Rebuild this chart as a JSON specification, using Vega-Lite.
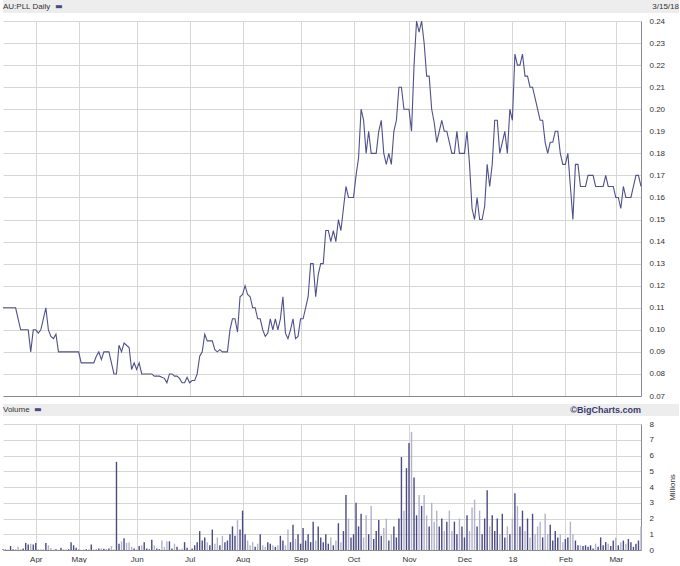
{
"$schema": "https://vega.github.io/schema/vega-lite/v6.json",
"background": "white",
"padding": {"left": 0, "top": 0, "right": 0, "bottom": 0},
"spacing": 8,
"bounds": "flush",
"config": {"view": {"stroke": null}, "font": "Liberation Sans",
  "axis": {"labelFont": "Liberation Sans", "labelFontSize": 8, "labelColor": "#333333", "gridColor": "#d6d6d6", "gridWidth": 1, "domainColor": "#9a9a9a", "ticks": false}},
"datasets": {"s": [
{"d":"2017-03-15","p":0.11,"v":0.05,"c":"u"},{"d":"2017-03-16","p":0.11,"v":0.03,"c":"u"},{"d":"2017-03-17","p":0.11,"v":0.02,"c":"u"},{"d":"2017-03-20","p":0.11,"v":0.25,"c":"u"},{"d":"2017-03-21","p":0.11,"v":0.05,"c":"u"},{"d":"2017-03-22","p":0.11,"v":0.02,"c":"u"},{"d":"2017-03-23","p":0.105,"v":0.2,"c":"d"},{"d":"2017-03-24","p":0.10,"v":0.05,"c":"d"},{"d":"2017-03-27","p":0.10,"v":0.1,"c":"u"},{"d":"2017-03-28","p":0.10,"v":0.45,"c":"u"},{"d":"2017-03-29","p":0.10,"v":0.35,"c":"u"},{"d":"2017-03-30","p":0.09,"v":0.4,"c":"d"},{"d":"2017-03-31","p":0.10,"v":0.35,"c":"u"},
{"d":"2017-04-03","p":0.10,"v":0.45,"c":"u"},{"d":"2017-04-04","p":0.0985,"v":0.05,"c":"d"},{"d":"2017-04-05","p":0.10,"v":0.02,"c":"u"},{"d":"2017-04-06","p":0.105,"v":0.02,"c":"u"},{"d":"2017-04-07","p":0.11,"v":0.45,"c":"u"},{"d":"2017-04-10","p":0.10,"v":0.3,"c":"d"},{"d":"2017-04-11","p":0.097,"v":0.12,"c":"d"},{"d":"2017-04-12","p":0.096,"v":0.02,"c":"d"},{"d":"2017-04-13","p":0.098,"v":0.05,"c":"u"},{"d":"2017-04-18","p":0.09,"v":0.02,"c":"d"},{"d":"2017-04-19","p":0.09,"v":0.15,"c":"u"},{"d":"2017-04-20","p":0.09,"v":0.02,"c":"u"},{"d":"2017-04-21","p":0.09,"v":0.02,"c":"u"},{"d":"2017-04-24","p":0.09,"v":0.05,"c":"u"},{"d":"2017-04-26","p":0.09,"v":0.5,"c":"u"},{"d":"2017-04-27","p":0.09,"v":0.3,"c":"u"},{"d":"2017-04-28","p":0.09,"v":0.15,"c":"u"},
{"d":"2017-05-01","p":0.09,"v":0.03,"c":"u"},{"d":"2017-05-02","p":0.085,"v":0.02,"c":"d"},{"d":"2017-05-03","p":0.085,"v":0.02,"c":"u"},{"d":"2017-05-04","p":0.085,"v":0.05,"c":"u"},{"d":"2017-05-05","p":0.085,"v":0.02,"c":"u"},{"d":"2017-05-08","p":0.085,"v":0.35,"c":"u"},{"d":"2017-05-09","p":0.085,"v":0.02,"c":"u"},{"d":"2017-05-10","p":0.088,"v":0.03,"c":"u"},{"d":"2017-05-11","p":0.09,"v":0.1,"c":"u"},{"d":"2017-05-12","p":0.0865,"v":0.1,"c":"d"},{"d":"2017-05-15","p":0.09,"v":0.08,"c":"u"},{"d":"2017-05-16","p":0.09,"v":0.03,"c":"u"},{"d":"2017-05-17","p":0.09,"v":0.1,"c":"u"},{"d":"2017-05-18","p":0.085,"v":0.25,"c":"d"},{"d":"2017-05-19","p":0.08,"v":0.05,"c":"d"},{"d":"2017-05-22","p":0.08,"v":5.6,"c":"u"},{"d":"2017-05-23","p":0.093,"v":0.4,"c":"u"},{"d":"2017-05-24","p":0.09,"v":0.55,"c":"d"},{"d":"2017-05-25","p":0.094,"v":0.75,"c":"u"},{"d":"2017-05-26","p":0.093,"v":0.45,"c":"d"},{"d":"2017-05-29","p":0.092,"v":0.5,"c":"d"},{"d":"2017-05-30","p":0.082,"v":0.2,"c":"d"},{"d":"2017-05-31","p":0.085,"v":0.1,"c":"u"},
{"d":"2017-06-01","p":0.082,"v":0.02,"c":"d"},{"d":"2017-06-02","p":0.085,"v":0.25,"c":"u"},{"d":"2017-06-05","p":0.08,"v":0.3,"c":"d"},{"d":"2017-06-06","p":0.08,"v":0.5,"c":"u"},{"d":"2017-06-07","p":0.08,"v":0.1,"c":"u"},{"d":"2017-06-08","p":0.08,"v":0.05,"c":"u"},{"d":"2017-06-09","p":0.08,"v":0.65,"c":"u"},{"d":"2017-06-13","p":0.079,"v":0.3,"c":"d"},{"d":"2017-06-14","p":0.079,"v":0.1,"c":"u"},{"d":"2017-06-15","p":0.079,"v":0.05,"c":"u"},{"d":"2017-06-16","p":0.0785,"v":0.6,"c":"d"},{"d":"2017-06-19","p":0.078,"v":0.2,"c":"d"},{"d":"2017-06-20","p":0.076,"v":0.55,"c":"d"},{"d":"2017-06-21","p":0.08,"v":0.55,"c":"u"},{"d":"2017-06-22","p":0.08,"v":0.1,"c":"u"},{"d":"2017-06-23","p":0.079,"v":0.4,"c":"d"},{"d":"2017-06-26","p":0.079,"v":0.2,"c":"u"},{"d":"2017-06-27","p":0.078,"v":0.05,"c":"d"},{"d":"2017-06-28","p":0.076,"v":0.1,"c":"d"},{"d":"2017-06-29","p":0.076,"v":0.5,"c":"u"},{"d":"2017-06-30","p":0.0785,"v":0.15,"c":"u"},
{"d":"2017-07-03","p":0.076,"v":0.02,"c":"d"},{"d":"2017-07-04","p":0.077,"v":0.1,"c":"u"},{"d":"2017-07-05","p":0.077,"v":0.3,"c":"u"},{"d":"2017-07-06","p":0.08,"v":0.5,"c":"u"},{"d":"2017-07-07","p":0.088,"v":1.2,"c":"u"},{"d":"2017-07-10","p":0.09,"v":0.6,"c":"u"},{"d":"2017-07-11","p":0.098,"v":0.8,"c":"u"},{"d":"2017-07-12","p":0.095,"v":0.5,"c":"d"},{"d":"2017-07-13","p":0.095,"v":0.3,"c":"u"},{"d":"2017-07-14","p":0.095,"v":1.3,"c":"u"},{"d":"2017-07-17","p":0.091,"v":0.4,"c":"d"},{"d":"2017-07-18","p":0.09,"v":0.8,"c":"d"},{"d":"2017-07-19","p":0.091,"v":0.3,"c":"u"},{"d":"2017-07-20","p":0.09,"v":0.9,"c":"d"},{"d":"2017-07-21","p":0.09,"v":0.5,"c":"u"},{"d":"2017-07-24","p":0.09,"v":0.6,"c":"u"},{"d":"2017-07-25","p":0.10,"v":1.0,"c":"u"},{"d":"2017-07-26","p":0.105,"v":1.5,"c":"u"},{"d":"2017-07-27","p":0.105,"v":0.9,"c":"u"},{"d":"2017-07-28","p":0.099,"v":1.9,"c":"d"},{"d":"2017-07-31","p":0.115,"v":1.3,"c":"u"},
{"d":"2017-08-01","p":0.116,"v":2.5,"c":"u"},{"d":"2017-08-02","p":0.12,"v":1.0,"c":"u"},{"d":"2017-08-03","p":0.116,"v":0.6,"c":"d"},{"d":"2017-08-04","p":0.115,"v":0.3,"c":"d"},{"d":"2017-08-07","p":0.11,"v":0.5,"c":"d"},{"d":"2017-08-08","p":0.11,"v":0.2,"c":"u"},{"d":"2017-08-09","p":0.105,"v":0.4,"c":"d"},{"d":"2017-08-10","p":0.105,"v":1.0,"c":"u"},{"d":"2017-08-11","p":0.10,"v":0.3,"c":"d"},{"d":"2017-08-14","p":0.097,"v":0.2,"c":"d"},{"d":"2017-08-15","p":0.0985,"v":0.5,"c":"u"},{"d":"2017-08-16","p":0.105,"v":0.4,"c":"u"},{"d":"2017-08-17","p":0.10,"v":0.3,"c":"d"},{"d":"2017-08-18","p":0.105,"v":0.2,"c":"u"},{"d":"2017-08-21","p":0.10,"v":0.3,"c":"d"},{"d":"2017-08-22","p":0.105,"v":0.9,"c":"u"},{"d":"2017-08-23","p":0.115,"v":0.6,"c":"u"},{"d":"2017-08-24","p":0.0985,"v":0.3,"c":"d"},{"d":"2017-08-25","p":0.096,"v":1.3,"c":"d"},{"d":"2017-08-28","p":0.10,"v":0.5,"c":"u"},{"d":"2017-08-29","p":0.105,"v":1.6,"c":"u"},{"d":"2017-08-30","p":0.096,"v":0.7,"c":"d"},{"d":"2017-08-31","p":0.097,"v":1.0,"c":"u"},
{"d":"2017-09-01","p":0.105,"v":0.4,"c":"u"},{"d":"2017-09-04","p":0.105,"v":1.4,"c":"u"},{"d":"2017-09-05","p":0.11,"v":0.6,"c":"u"},{"d":"2017-09-06","p":0.115,"v":1.0,"c":"u"},{"d":"2017-09-07","p":0.13,"v":0.5,"c":"u"},{"d":"2017-09-08","p":0.13,"v":1.8,"c":"u"},{"d":"2017-09-11","p":0.115,"v":0.6,"c":"d"},{"d":"2017-09-12","p":0.125,"v":1.5,"c":"u"},{"d":"2017-09-13","p":0.13,"v":0.8,"c":"u"},{"d":"2017-09-14","p":0.13,"v":0.5,"c":"u"},{"d":"2017-09-15","p":0.145,"v":1.0,"c":"u"},{"d":"2017-09-18","p":0.145,"v":0.4,"c":"u"},{"d":"2017-09-19","p":0.14,"v":0.8,"c":"d"},{"d":"2017-09-20","p":0.145,"v":0.3,"c":"u"},{"d":"2017-09-21","p":0.14,"v":0.6,"c":"d"},{"d":"2017-09-22","p":0.15,"v":1.7,"c":"u"},{"d":"2017-09-25","p":0.145,"v":0.5,"c":"d"},{"d":"2017-09-26","p":0.155,"v":1.2,"c":"u"},{"d":"2017-09-27","p":0.165,"v":3.5,"c":"u"},{"d":"2017-09-28","p":0.16,"v":2.0,"c":"d"},{"d":"2017-09-29","p":0.16,"v":0.8,"c":"u"},
{"d":"2017-10-02","p":0.16,"v":1.0,"c":"u"},{"d":"2017-10-03","p":0.17,"v":3.0,"c":"u"},{"d":"2017-10-04","p":0.178,"v":1.5,"c":"u"},{"d":"2017-10-05","p":0.20,"v":2.3,"c":"u"},{"d":"2017-10-06","p":0.195,"v":0.8,"c":"d"},{"d":"2017-10-09","p":0.18,"v":2.2,"c":"d"},{"d":"2017-10-10","p":0.19,"v":1.0,"c":"u"},{"d":"2017-10-11","p":0.18,"v":2.8,"c":"d"},{"d":"2017-10-12","p":0.18,"v":0.7,"c":"u"},{"d":"2017-10-13","p":0.18,"v":1.2,"c":"u"},{"d":"2017-10-16","p":0.19,"v":1.9,"c":"u"},{"d":"2017-10-17","p":0.195,"v":0.9,"c":"u"},{"d":"2017-10-18","p":0.18,"v":1.4,"c":"d"},{"d":"2017-10-19","p":0.175,"v":2.0,"c":"d"},{"d":"2017-10-20","p":0.18,"v":0.6,"c":"u"},{"d":"2017-10-23","p":0.175,"v":1.0,"c":"d"},{"d":"2017-10-24","p":0.19,"v":1.5,"c":"u"},{"d":"2017-10-25","p":0.195,"v":0.8,"c":"u"},{"d":"2017-10-26","p":0.21,"v":2.0,"c":"u"},{"d":"2017-10-27","p":0.21,"v":5.9,"c":"u"},{"d":"2017-10-30","p":0.20,"v":2.5,"c":"d"},{"d":"2017-10-31","p":0.20,"v":5.2,"c":"u"},
{"d":"2017-11-01","p":0.20,"v":6.8,"c":"u"},{"d":"2017-11-02","p":0.19,"v":7.5,"c":"d"},{"d":"2017-11-03","p":0.22,"v":4.6,"c":"u"},{"d":"2017-11-06","p":0.24,"v":2.2,"c":"u"},{"d":"2017-11-07","p":0.235,"v":3.5,"c":"d"},{"d":"2017-11-08","p":0.24,"v":2.8,"c":"u"},{"d":"2017-11-09","p":0.23,"v":3.5,"c":"d"},{"d":"2017-11-10","p":0.215,"v":2.2,"c":"d"},{"d":"2017-11-13","p":0.215,"v":1.5,"c":"u"},{"d":"2017-11-14","p":0.20,"v":3.0,"c":"d"},{"d":"2017-11-15","p":0.194,"v":1.8,"c":"d"},{"d":"2017-11-16","p":0.185,"v":2.5,"c":"d"},{"d":"2017-11-17","p":0.19,"v":1.5,"c":"u"},{"d":"2017-11-20","p":0.195,"v":2.0,"c":"u"},{"d":"2017-11-21","p":0.19,"v":1.2,"c":"d"},{"d":"2017-11-22","p":0.19,"v":1.8,"c":"u"},{"d":"2017-11-23","p":0.185,"v":2.5,"c":"d"},{"d":"2017-11-24","p":0.18,"v":1.2,"c":"d"},{"d":"2017-11-27","p":0.18,"v":1.8,"c":"u"},{"d":"2017-11-28","p":0.19,"v":1.0,"c":"u"},{"d":"2017-11-29","p":0.18,"v":2.0,"c":"d"},{"d":"2017-11-30","p":0.18,"v":1.5,"c":"u"},
{"d":"2017-12-01","p":0.18,"v":0.8,"c":"u"},{"d":"2017-12-04","p":0.19,"v":2.2,"c":"u"},{"d":"2017-12-05","p":0.175,"v":1.2,"c":"d"},{"d":"2017-12-06","p":0.155,"v":2.7,"c":"d"},{"d":"2017-12-07","p":0.15,"v":3.2,"c":"d"},{"d":"2017-12-08","p":0.16,"v":1.5,"c":"u"},{"d":"2017-12-11","p":0.15,"v":2.5,"c":"d"},{"d":"2017-12-12","p":0.15,"v":1.0,"c":"u"},{"d":"2017-12-13","p":0.156,"v":2.0,"c":"u"},{"d":"2017-12-14","p":0.175,"v":3.8,"c":"u"},{"d":"2017-12-15","p":0.165,"v":1.5,"c":"d"},{"d":"2017-12-18","p":0.175,"v":2.2,"c":"u"},{"d":"2017-12-19","p":0.195,"v":1.2,"c":"u"},{"d":"2017-12-20","p":0.195,"v":2.0,"c":"u"},{"d":"2017-12-21","p":0.18,"v":1.0,"c":"d"},{"d":"2017-12-22","p":0.185,"v":2.3,"c":"u"},{"d":"2017-12-27","p":0.19,"v":0.8,"c":"u"},{"d":"2017-12-28","p":0.18,"v":1.5,"c":"d"},{"d":"2017-12-29","p":0.20,"v":1.0,"c":"u"},
{"d":"2018-01-02","p":0.195,"v":2.0,"c":"d"},{"d":"2018-01-03","p":0.225,"v":3.6,"c":"u"},{"d":"2018-01-04","p":0.22,"v":2.8,"c":"d"},{"d":"2018-01-05","p":0.22,"v":1.5,"c":"u"},{"d":"2018-01-08","p":0.225,"v":2.5,"c":"u"},{"d":"2018-01-09","p":0.215,"v":1.2,"c":"d"},{"d":"2018-01-10","p":0.215,"v":2.0,"c":"u"},{"d":"2018-01-11","p":0.21,"v":0.8,"c":"d"},{"d":"2018-01-12","p":0.21,"v":2.3,"c":"u"},{"d":"2018-01-15","p":0.205,"v":1.0,"c":"d"},{"d":"2018-01-16","p":0.20,"v":1.5,"c":"d"},{"d":"2018-01-17","p":0.195,"v":1.8,"c":"d"},{"d":"2018-01-18","p":0.195,"v":0.8,"c":"u"},{"d":"2018-01-19","p":0.185,"v":2.3,"c":"d"},{"d":"2018-01-22","p":0.18,"v":1.0,"c":"d"},{"d":"2018-01-23","p":0.185,"v":1.6,"c":"u"},{"d":"2018-01-24","p":0.185,"v":0.6,"c":"u"},{"d":"2018-01-25","p":0.19,"v":1.2,"c":"u"},{"d":"2018-01-29","p":0.19,"v":0.8,"c":"u"},{"d":"2018-01-30","p":0.18,"v":1.0,"c":"d"},{"d":"2018-01-31","p":0.175,"v":0.5,"c":"d"},
{"d":"2018-02-01","p":0.175,"v":0.7,"c":"u"},{"d":"2018-02-02","p":0.18,"v":0.8,"c":"u"},{"d":"2018-02-05","p":0.165,"v":1.8,"c":"d"},{"d":"2018-02-06","p":0.15,"v":1.0,"c":"d"},{"d":"2018-02-07","p":0.175,"v":0.6,"c":"u"},{"d":"2018-02-08","p":0.175,"v":0.3,"c":"u"},{"d":"2018-02-09","p":0.165,"v":0.3,"c":"d"},{"d":"2018-02-12","p":0.165,"v":0.25,"c":"u"},{"d":"2018-02-13","p":0.165,"v":0.3,"c":"u"},{"d":"2018-02-14","p":0.17,"v":0.2,"c":"u"},{"d":"2018-02-15","p":0.17,"v":0.3,"c":"u"},{"d":"2018-02-16","p":0.17,"v":0.1,"c":"u"},{"d":"2018-02-19","p":0.165,"v":0.4,"c":"d"},{"d":"2018-02-20","p":0.165,"v":0.2,"c":"u"},{"d":"2018-02-21","p":0.165,"v":0.8,"c":"u"},{"d":"2018-02-22","p":0.165,"v":0.3,"c":"u"},{"d":"2018-02-23","p":0.17,"v":0.5,"c":"u"},{"d":"2018-02-26","p":0.165,"v":0.4,"c":"d"},{"d":"2018-02-27","p":0.165,"v":0.25,"c":"u"},{"d":"2018-02-28","p":0.165,"v":0.6,"c":"u"},
{"d":"2018-03-01","p":0.16,"v":0.8,"c":"d"},{"d":"2018-03-02","p":0.16,"v":0.3,"c":"u"},{"d":"2018-03-05","p":0.155,"v":0.5,"c":"d"},{"d":"2018-03-06","p":0.165,"v":0.6,"c":"u"},{"d":"2018-03-07","p":0.16,"v":0.4,"c":"d"},{"d":"2018-03-08","p":0.16,"v":0.7,"c":"u"},{"d":"2018-03-09","p":0.16,"v":0.5,"c":"u"},{"d":"2018-03-12","p":0.165,"v":0.2,"c":"u"},{"d":"2018-03-13","p":0.17,"v":0.4,"c":"u"},{"d":"2018-03-14","p":0.17,"v":0.6,"c":"u"},{"d":"2018-03-15","p":0.165,"v":1.5,"c":"d"}
]},
"vconcat": [
{
 "width": 676, "height": 13,
 "view": {"fill": "#ededed", "stroke": null},
 "data": {"values": [{"side": "L", "label": "AU:PLL Daily"}, {"side": "R", "label": "3/15/18"}, {"side": "L", "label": "\u25ac"}]},
 "layer": [
  {"transform": [{"filter": "datum.label == 'AU:PLL Daily'"}],
   "mark": {"type": "text", "align": "left", "baseline": "middle", "fontSize": 8, "color": "#333333", "font": "Liberation Sans"},
   "encoding": {"x": {"field": "side", "type": "nominal", "scale": {"type": "point", "domain": ["L", "R"], "padding": 0}, "axis": null}, "text": {"field": "label"}}},
  {"transform": [{"filter": "datum.label == '\u25ac'"}],
   "mark": {"type": "text", "align": "left", "baseline": "middle", "fontSize": 8, "color": "#4a4a84", "dx": 52, "font": "DejaVu Sans"},
   "encoding": {"x": {"field": "side", "type": "nominal", "scale": {"type": "point", "domain": ["L", "R"], "padding": 0}, "axis": null}, "text": {"field": "label"}}},
  {"transform": [{"filter": "datum.side == 'R' && datum.label != '\u25ac'"}],
   "mark": {"type": "text", "align": "right", "baseline": "middle", "fontSize": 8, "color": "#333333", "font": "Liberation Sans"},
   "encoding": {"x": {"field": "side", "type": "nominal", "scale": {"type": "point", "domain": ["L", "R"], "padding": 0}, "axis": null}, "text": {"field": "label"}}}
 ]
},
{
 "width": 638, "height": 375,
 "data": {"name": "s"},
 "mark": {"type": "line", "color": "#50508a", "strokeWidth": 1.1, "interpolate": "linear"},
 "encoding": {
  "x": {"field": "d", "type": "ordinal", "scale": {"type": "point", "padding": 0},
        "axis": {"orient": "bottom", "values": ["2017-04-03","2017-05-01","2017-06-01","2017-07-03","2017-08-01","2017-09-01","2017-10-02","2017-11-01","2017-12-01","2018-01-02","2018-02-01","2018-03-01"], "labels": false, "title": null, "grid": true, "domain": true, "domainColor": "#8a8a8a"}},
  "y": {"field": "p", "type": "quantitative", "scale": {"domain": [0.07, 0.24], "nice": false, "zero": false},
        "axis": {"orient": "right", "values": [0.07,0.08,0.09,0.10,0.11,0.12,0.13,0.14,0.15,0.16,0.17,0.18,0.19,0.20,0.21,0.22,0.23,0.24], "format": ".2f", "title": null, "grid": true, "domain": true, "domainColor": "#8a8a8a", "labelPadding": 8}}
 }
},
{
 "width": 676, "height": 12,
 "view": {"fill": "#ededed", "stroke": null},
 "data": {"values": [{"side": "L", "label": "Volume"}, {"side": "R", "label": "\u00a9BigCharts.com"}, {"side": "L", "label": "\u25ac"}]},
 "layer": [
  {"transform": [{"filter": "datum.label == 'Volume'"}],
   "mark": {"type": "text", "align": "left", "baseline": "middle", "fontSize": 8, "color": "#333333", "font": "Liberation Sans"},
   "encoding": {"x": {"field": "side", "type": "nominal", "scale": {"type": "point", "domain": ["L", "R"], "padding": 0.0298, "align": 0}, "axis": null}, "text": {"field": "label"}}},
  {"transform": [{"filter": "datum.label == '\u25ac'"}],
   "mark": {"type": "text", "align": "left", "baseline": "middle", "fontSize": 8, "color": "#4a4a84", "dx": 31, "font": "DejaVu Sans"},
   "encoding": {"x": {"field": "side", "type": "nominal", "scale": {"type": "point", "domain": ["L", "R"], "padding": 0.0298, "align": 0}, "axis": null}, "text": {"field": "label"}}},
  {"transform": [{"filter": "datum.side == 'R'"}],
   "mark": {"type": "text", "align": "right", "baseline": "middle", "fontSize": 9, "fontWeight": "bold", "color": "#3a3a6e", "font": "Liberation Sans"},
   "encoding": {"x": {"field": "side", "type": "nominal", "scale": {"type": "point", "domain": ["L", "R"], "padding": 0.0298, "align": 0}, "axis": null}, "text": {"field": "label"}}}
 ]
},
{
 "width": 638, "height": 126,
 "data": {"name": "s"},
 "mark": {"type": "bar", "width": 1.4},
 "encoding": {
  "x": {"field": "d", "type": "ordinal", "scale": {"type": "point", "padding": 0},
        "axis": {"orient": "bottom", "values": ["2017-04-03","2017-05-01","2017-06-01","2017-07-03","2017-08-01","2017-09-01","2017-10-02","2017-11-01","2017-12-01","2018-01-02","2018-02-01","2018-03-01"],
                 "labelExpr": "datum.value == '2018-01-02' ? '18' : utcFormat(toDate(datum.value), '%b')", "labelAngle": 0, "labelPadding": 5, "title": null, "grid": true, "domain": true, "domainColor": "#8a8a8a"}},
  "y": {"field": "v", "type": "quantitative", "scale": {"domain": [0, 8], "nice": false},
        "axis": {"orient": "right", "values": [0,1,2,3,4,5,6,7,8], "format": "d", "title": "Millions", "titleAngle": -90, "titleFont": "Liberation Sans", "titleFontSize": 8, "titleFontWeight": "normal", "titleColor": "#333333", "titlePadding": 23, "grid": true, "domain": true, "domainColor": "#8a8a8a", "labelPadding": 8}},
  "color": {"field": "c", "type": "nominal", "scale": {"domain": ["u", "d"], "range": ["#4a4a84", "#b2b2ca"]}, "legend": null}
 }
}
]
}
